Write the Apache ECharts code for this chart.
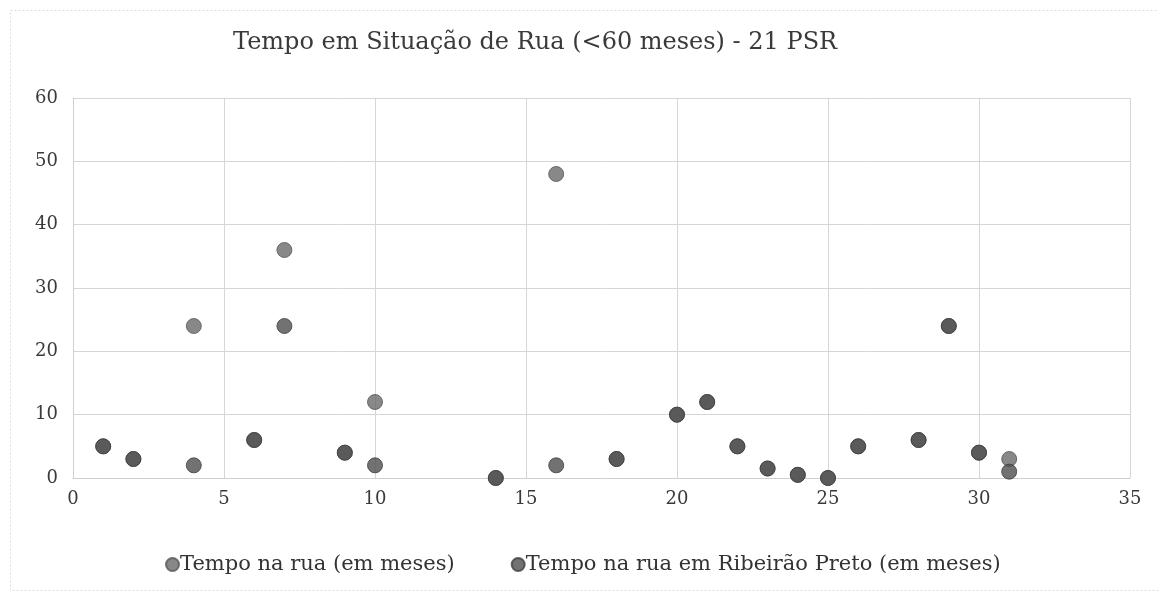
<!DOCTYPE html>
<html>
<head>
<meta charset="utf-8">
<script src="https://cdn.jsdelivr.net/npm/echarts@6/dist/echarts.min.js"></script>
<style>html,body{margin:0;padding:0;background:#fff}#c{width:1158px;height:591px}</style>
</head>
<body>
<div id="c"></div>
<script>
const titleText = 'Tempo em Situação de Rua (<60 meses) - 21 PSR';
const seriesNames = ['Tempo na rua (em meses)', 'Tempo na rua em Ribeirão Preto (em meses)'];
const personX = [1, 2, 4, 6, 7, 9, 10, 14, 16, 18, 20, 21, 22, 23, 24, 25, 26, 28, 29, 30, 31];
const tempoRua = [5, 3, 24, 6, 36, 4, 12, 0, 48, 3, 10, 12, 5, 1.5, 0.5, 0, 5, 6, 24, 4, 3];
const tempoRP = [5, 3, 2, 6, 24, 4, 2, 0, 2, 3, 10, 12, 5, 1.5, 0.5, 0, 5, 6, 24, 4, 1];
const xTicks = [0, 5, 10, 15, 20, 25, 30, 35];
const yTicks = [0, 10, 20, 30, 40, 50, 60];

const font = '"DejaVu Serif", "Liberation Serif", serif';
const chart = echarts.init(document.getElementById('c'), null, {renderer: 'canvas'});
chart.setOption({
  backgroundColor: '#ffffff',
  animation: false,
  title: {
    text: titleText, left: 228, top: 26,
    textStyle: {fontFamily: font, fontSize: 24, fontWeight: 'normal', color: '#3a3a3a'}
  },
  legend: {
    top: 549, left: 160, itemGap: 56, itemWidth: 13, itemHeight: 13,
    icon: 'circle',
    textStyle: {fontFamily: font, fontSize: 21, color: '#333', padding: [0, 0, 0, -4]},
    data: seriesNames
  },
  grid: {left: 73, right: 28, top: 98, bottom: 113, containLabel: false},
  xAxis: {
    type: 'value', min: xTicks[0], max: xTicks[xTicks.length - 1], interval: 5,
    axisLine: {show: true, lineStyle: {color: '#cfcfcf'}},
    axisTick: {show: false},
    splitLine: {show: true, lineStyle: {color: '#d6d6d6', width: 1}},
    axisLabel: {fontFamily: font, fontSize: 18, color: '#3a3a3a', margin: 12}
  },
  yAxis: {
    type: 'value', min: yTicks[0], max: yTicks[yTicks.length - 1], interval: 10,
    axisLine: {show: true, lineStyle: {color: '#cfcfcf'}},
    axisTick: {show: false},
    splitLine: {show: true, lineStyle: {color: '#d6d6d6', width: 1}},
    axisLabel: {fontFamily: font, fontSize: 18, color: '#3a3a3a', margin: 15}
  },
  series: [
    {
      name: seriesNames[0], type: 'scatter', symbolSize: 15,
      itemStyle: {color: '#6a6a6a', borderColor: '#555555', borderWidth: 1},
      data: personX.map((x, i) => [x, tempoRua[i]])
    },
    {
      name: seriesNames[1], type: 'scatter', symbolSize: 15,
      itemStyle: {color: '#4f4f4f', borderColor: '#3e3e3e', borderWidth: 1},
      data: personX.map((x, i) => [x, tempoRP[i]])
    }
  ],
  graphic: [
    {type: 'rect', left: 8, top: 8, shape: {width: 1160, height: 580},
     style: {fill: 'none', stroke: '#dcdcdc', lineWidth: 1, lineDash: [2, 2]}, silent: true}
  ]
});
</script>
</body>
</html>
